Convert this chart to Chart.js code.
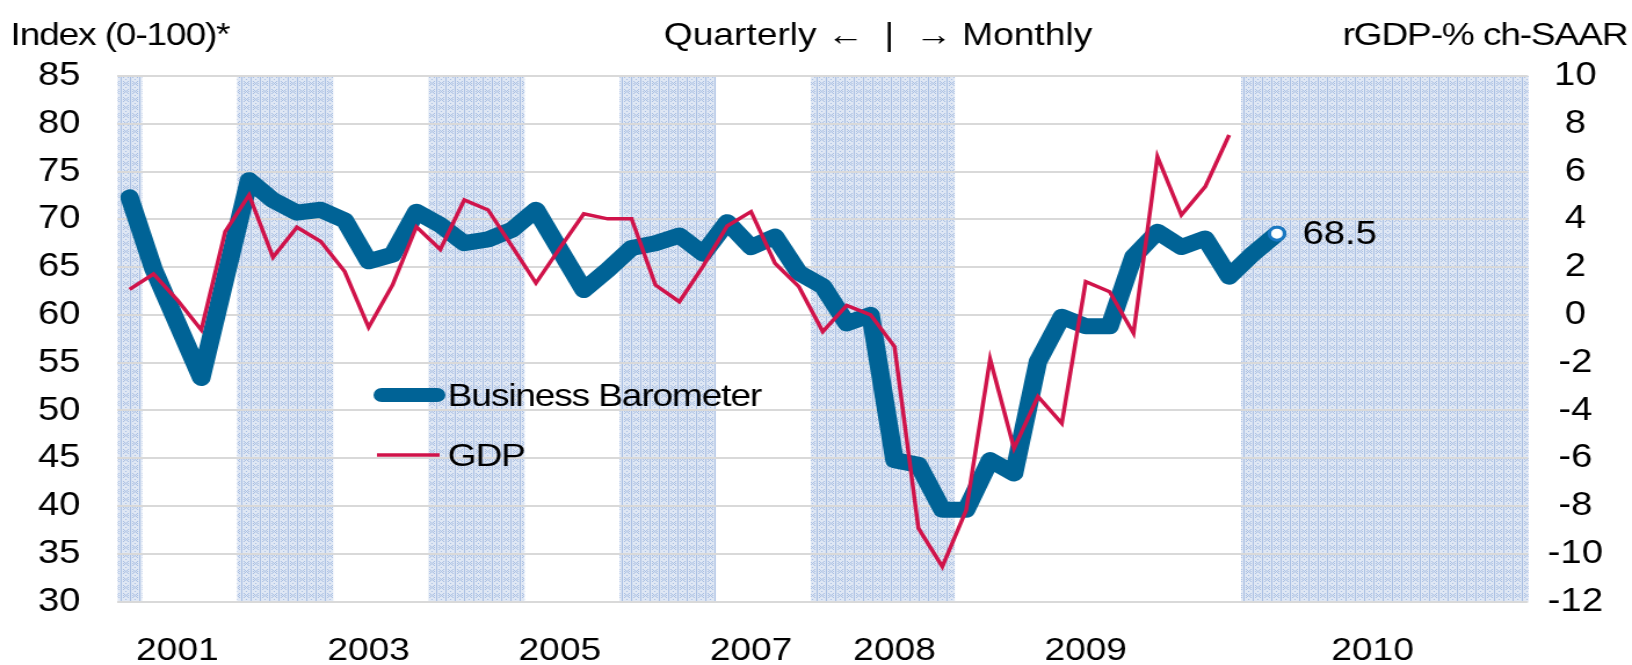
<!DOCTYPE html>
<html>
<head>
<meta charset="utf-8">
<script src="https://cdn.jsdelivr.net/npm/chart.js@4.4.1/dist/chart.umd.min.js"></script>
<style>
    html, body { margin: 0; padding: 0; background: #fff; overflow: hidden; }
    /* the original picture is stretched sideways, so stretch the chart box the same way */
    #wrap { width: 1407px; height: 665px; transform: scaleX(1.1599); transform-origin: 0 0; }
</style>
</head>
<body>
<div id="wrap"><canvas id="barometerChart"></canvas></div>
<script>
// X-axis: quarterly up to 2008Q3, monthly afterwards
const periods = [
    '2000Q4',
    '2001Q1', '2001Q2', '2001Q3', '2001Q4',
    '2002Q1', '2002Q2', '2002Q3', '2002Q4',
    '2003Q1', '2003Q2', '2003Q3', '2003Q4',
    '2004Q1', '2004Q2', '2004Q3', '2004Q4',
    '2005Q1', '2005Q2', '2005Q3', '2005Q4',
    '2006Q1', '2006Q2', '2006Q3', '2006Q4',
    '2007Q1', '2007Q2', '2007Q3', '2007Q4',
    '2008Q1', '2008Q2', '2008Q3',
    '2008-10', '2008-11', '2008-12',
    '2009-01', '2009-02', '2009-03', '2009-04', '2009-05', '2009-06',
    '2009-07', '2009-08', '2009-09', '2009-10', '2009-11', '2009-12',
    '2010-01', '2010-02', '2010-03', '2010-04', '2010-05', '2010-06',
    '2010-07', '2010-08', '2010-09', '2010-10', '2010-11', '2010-12'
];

// which periods carry a year label, and the label shown
const tickPeriods = ['2001Q2', '2003Q2', '2005Q2', '2007Q2', '2008-10', '2009-06', '2010-06'];
const tickLabels = ['2001', '2003', '2005', '2007', '2008', '2009', '2010'];

// Business Barometer, index 0-100 (left axis)
const barometer = [
    72.3,
    64.8, 59.1, 53.4, 63.8,
    74.1, 72.0, 70.7, 71.0,
    69.9, 65.6, 66.3, 70.8,
    69.4, 67.5, 67.9, 68.9,
    71.0, 66.8, 62.6, 64.7,
    67.0, 67.5, 68.3, 66.4,
    69.7, 67.1, 68.2, 64.4,
    63.0, 59.1, 60.0,
    44.8, 44.3, 39.6,
    39.6, 44.8, 43.4, 55.1, 59.8, 58.8,
    58.8, 66.1, 68.7, 67.1, 68.0, 64.0,
    66.4, 68.5
];

// real GDP, % change SAAR (right axis)
const gdp = [
    1.07,
    1.71, 0.62, -0.63, 3.48,
    5.02, 2.41, 3.67, 3.07,
    1.81, -0.52, 1.25, 3.69,
    2.74, 4.81, 4.39, 2.87,
    1.33, 2.79, 4.23, 4.02,
    4.02, 1.25, 0.55, 2.05,
    3.72, 4.32, 2.16, 1.18,
    -0.70, 0.40, 0.00,
    -1.33, -8.93, -10.54,
    -8.17, -1.85, -5.59, -3.42, -4.54, 1.39,
    0.97, -0.77, 6.62, 4.18, 5.37, 7.53
];

const blue = '#006396';
const red = '#d0134a';
const font = 'Liberation Sans, Arial, sans-serif';

// hatched light-blue fill used for the even years
function bandPattern(ctx) {
    const tile = document.createElement('canvas');
    tile.width = 8;
    tile.height = 8;
    const t = tile.getContext('2d');
    t.fillStyle = '#dfe7f4';
    t.fillRect(0, 0, 8, 8);
    t.fillStyle = '#a9bfe3';
    t.fillRect(0, 0, 1, 8);
    [[2, 1], [6, 1], [3, 2], [5, 2], [4, 3], [3, 4], [5, 4], [2, 5], [6, 5], [4, 7], [2, 3], [6, 3]]
        .forEach(([x, y]) => t.fillRect(x, y, 1, 1));
    return ctx.createPattern(tile, 'repeat');
}

const yearBands = {
    id: 'yearBands',
    beforeDraw(chart) {
        const {ctx, chartArea} = chart;
        const x = chart.scales.x;
        const half = (x.getPixelForValue(1) - x.getPixelForValue(0)) / 2;
        ctx.save();
        ctx.fillStyle = bandPattern(ctx);
        periods.forEach((p, i) => {
            if (parseInt(p.slice(0, 4)) % 2 !== 0) return;
            const cx = x.getPixelForValue(i);
            ctx.fillRect(cx - half, chartArea.top, half * 2 + 0.5, chartArea.bottom - chartArea.top);
        });
        ctx.restore();
    }
};

const overlayText = {
    id: 'overlayText',
    afterDraw(chart) {
        const {ctx} = chart;
        ctx.save();
        ctx.fillStyle = '#000';
        ctx.font = '32px ' + font;
        ctx.textBaseline = 'alphabetic';
        ctx.letterSpacing = '-1px';

        // axis captions along the top
        ctx.textAlign = 'left';
        ctx.fillText('Index (0-100)*', 9, 45);
        ctx.textAlign = 'right';
        ctx.fillText('rGDP-% ch-SAAR', 1403, 45);
        ctx.letterSpacing = '0px';
        ctx.textAlign = 'center';
        ctx.fillText('Quarterly \u2190  |  \u2192 Monthly', 757, 45);

        // legend inside the plot
        ctx.lineCap = 'round';
        ctx.strokeStyle = blue;
        ctx.lineWidth = 14;
        ctx.beginPath();
        ctx.moveTo(329, 395);
        ctx.lineTo(377, 395);
        ctx.stroke();
        ctx.lineCap = 'butt';
        ctx.strokeStyle = red;
        ctx.lineWidth = 3.5;
        ctx.beginPath();
        ctx.moveTo(325, 455);
        ctx.lineTo(379, 455);
        ctx.stroke();
        ctx.letterSpacing = '-1px';
        ctx.textAlign = 'left';
        ctx.fillText('Business Barometer', 386, 406);
        ctx.fillText('GDP', 386, 466);

        // latest reading next to the last point
        const meta = chart.getDatasetMeta(1);
        const lastPt = meta.data[barometer.length - 1];
        ctx.letterSpacing = '0px';
        ctx.font = '33px ' + font;
        ctx.textBaseline = 'middle';
        ctx.fillText(barometer[barometer.length - 1].toFixed(1), lastPt.x + 22, lastPt.y + 1);
        ctx.restore();
    }
};

const ctx = document.getElementById('barometerChart').getContext('2d');
const barometerChart = new Chart(ctx, {
    type: 'line',
    data: {
        labels: periods,
        datasets: [
            {
                label: 'GDP',
                data: gdp,
                yAxisID: 'y2',
                borderColor: red,
                borderWidth: 3.5,
                pointRadius: 0,
                tension: 0,
                order: 0
            },
            {
                label: 'Business Barometer',
                data: barometer,
                yAxisID: 'y',
                borderColor: blue,
                borderWidth: 16,
                borderJoinStyle: 'round',
                borderCapStyle: 'round',
                tension: 0,
                pointRadius: c => c.dataIndex === barometer.length - 1 ? 6.5 : 0,
                pointBackgroundColor: '#fff',
                pointBorderColor: '#1a78c2',
                pointBorderWidth: 3,
                order: 1
            }
        ]
    },
    options: {
        responsive: true,
        maintainAspectRatio: false,
        animation: false,
        layout: { padding: { top: 76, left: 0, right: 0, bottom: 0 } },
        plugins: {
            legend: { display: false },
            tooltip: { enabled: false }
        },
        scales: {
            x: {
                type: 'category',
                offset: true,
                grid: { display: false, drawTicks: false },
                border: { display: false },
                ticks: {
                    autoSkip: false,
                    maxRotation: 0,
                    padding: 30,
                    color: '#000',
                    font: { family: font, size: 32 },
                    callback: function (value, index) {
                        const k = tickPeriods.indexOf(periods[index]);
                        return k >= 0 ? tickLabels[k] : '';
                    }
                },
                afterFit: s => { s.height = 63.5; }
            },
            y: {
                position: 'left',
                min: 30,
                max: 85,
                grid: { color: '#d9d9d9', lineWidth: 2, drawTicks: false },
                border: { display: false },
                ticks: {
                    stepSize: 5,
                    padding: 32,
                    color: '#000',
                    font: { family: font, size: 33 }
                },
                afterFit: s => { s.width = 101.4; }
            },
            y2: {
                position: 'right',
                min: -12,
                max: 10,
                grid: { display: false, drawTicks: false },
                border: { display: false },
                ticks: {
                    stepSize: 2,
                    padding: 17,
                    crossAlign: 'center',
                    color: '#000',
                    font: { family: font, size: 33 }
                },
                afterFit: s => { s.width = 89.7; }
            }
        }
    },
    plugins: [yearBands, overlayText]
});
</script>
</body>
</html>
